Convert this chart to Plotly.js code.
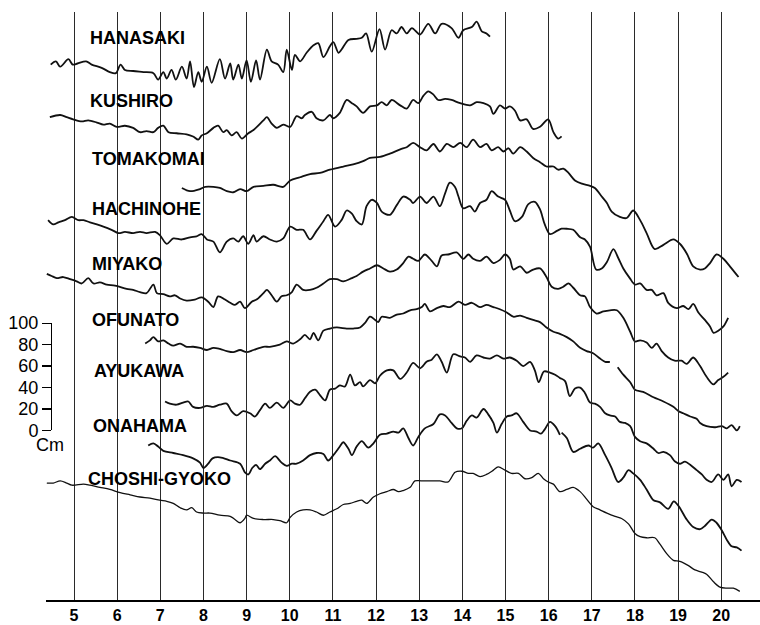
<!DOCTYPE html>
<html><head><meta charset="utf-8">
<script src="https://cdn.plot.ly/plotly-3.0.1.min.js"></script>
<style>html,body{margin:0;padding:0;background:#fff;}#chart{width:760px;height:625px;}</style>
</head><body><div id="chart"></div>
<script>
// hour ticks along the bottom
const hourTicks = [5,6,7,8,9,10,11,12,13,14,15,16,17,18,19,20];
// scale bar ticks (cm)
const scaleTicks = [0,20,40,60,80,100];
const stationNames = ['HANASAKI','KUSHIRO','TOMAKOMAI','HACHINOHE','MIYAKO','OFUNATO','AYUKAWA','ONAHAMA','CHOSHI-GYOKO'];

// time (hours) and level (cm, stacked record position) for each station
const hanasakiT = [4.46,4.58,4.68,4.87,4.97,5.08,5.28,5.41,5.64,5.83,5.97,6.08,6.18,6.37,6.61,6.84,6.95,7.07,7.15,7.26,7.36,7.50,7.61,7.69,7.78,7.88,7.96,8.08,8.19,8.38,8.50,8.62,8.69,8.81,8.89,9.00,9.10,9.22,9.31,9.47,9.58,9.73,9.85,9.93,10.05,10.12,10.24,10.39,10.55,10.66,10.78,10.93,11.01,11.13,11.20,11.36,11.55,11.67,11.77,11.90,12.08,12.21,12.36,12.48,12.59,12.71,12.83,13.02,13.21,13.37,13.52,13.75,13.91,14.02,14.22,14.33,14.45,14.56,14.64];
const hanasakiH = [499,502,497,504,499,500,502,499,496,492,491,499,494,493,492,491,485,492,486,494,485,497,486,502,478,492,483,497,482,504,486,500,485,499,486,503,483,503,485,513,502,499,492,513,494,508,502,510,517,519,506,516,520,510,513,522,523,524,528,511,532,513,531,528,534,528,533,527,537,528,537,533,524,531,534,539,530,528,525];

const kushiroT = [4.44,4.68,4.83,4.98,5.18,5.33,5.53,5.68,5.83,5.99,6.18,6.37,6.53,6.68,6.84,6.95,7.07,7.19,7.38,7.61,7.76,7.88,7.96,8.08,8.23,8.34,8.46,8.54,8.65,8.77,8.89,9.04,9.16,9.39,9.47,9.58,9.70,9.85,10.01,10.16,10.28,10.35,10.51,10.62,10.78,10.93,11.01,11.16,11.32,11.44,11.55,11.70,11.86,12.02,12.13,12.25,12.36,12.56,12.71,12.86,12.98,13.10,13.21,13.33,13.44,13.60,13.75,13.95,14.18,14.33,14.49,14.64,14.72,14.87,14.99,15.10,15.22,15.34,15.49,15.64,15.80,15.99,16.11,16.22,16.30];
const kushiroH = [450,452,450,448,446,447,445,443,444,441,442,440,436,437,436,440,442,436,435,434,432,429,433,435,440,442,436,438,433,436,430,435,438,447,450,444,440,443,441,451,449,452,455,449,447,452,449,454,466,463,460,454,460,461,464,461,466,461,458,466,463,470,474,471,466,467,466,463,461,464,463,460,453,461,458,460,456,447,448,439,441,448,436,430,432];

const tomakomaiT = [7.50,7.69,7.92,8.04,8.23,8.38,8.54,8.69,8.85,9.00,9.16,9.39,9.62,9.85,10.01,10.24,10.47,10.70,10.93,11.24,11.47,11.70,11.86,12.09,12.32,12.56,12.71,12.86,13.02,13.17,13.33,13.48,13.64,13.79,13.95,14.10,14.25,14.41,14.56,14.68,14.83,14.95,15.07,15.18,15.34,15.49,15.64,15.80,15.95,16.11,16.22,16.34,16.46,16.61,16.77,16.96,17.07,17.23,17.35,17.46,17.65,17.81,17.96,18.12,18.27,18.46,18.66,18.89,19.04,19.20,19.35,19.51,19.62,19.74,19.89,20.05,20.20,20.40];
const tomakomaiH = [384,381,383,385,385,384,381,380,383,381,385,386,387,385,391,394,397,398,401,404,406,409,412,413,416,420,422,426,422,419,425,418,425,422,426,422,429,422,425,419,422,418,421,416,422,418,412,408,404,404,401,402,398,391,388,386,384,376,370,362,357,356,363,354,342,327,331,336,332,323,311,308,309,314,322,318,311,301];

const hachinoheT = [4.40,4.52,4.64,4.79,4.95,5.10,5.22,5.37,5.53,5.68,5.87,6.03,6.18,6.37,6.53,6.68,6.88,6.99,7.15,7.30,7.50,7.69,7.84,7.96,8.08,8.23,8.38,8.54,8.69,8.81,8.92,9.04,9.16,9.23,9.39,9.54,9.70,9.85,10.01,10.16,10.31,10.47,10.62,10.78,10.89,11.05,11.20,11.32,11.44,11.55,11.67,11.78,11.90,12.02,12.13,12.32,12.48,12.63,12.79,12.86,13.02,13.17,13.33,13.48,13.60,13.71,13.83,13.91,14.02,14.18,14.29,14.41,14.56,14.68,14.83,14.99,15.10,15.22,15.38,15.53,15.68,15.80,15.91,16.03,16.19,16.30,16.42,16.57,16.73,16.84,16.96,17.10,17.23,17.35,17.50,17.61,17.73,17.88,18.00,18.12,18.27,18.39,18.50,18.66,18.77,18.97,19.12,19.24,19.35,19.47,19.62,19.74,19.82,19.93,20.05,20.16];
const hachinoheH = [354,350,352,354,357,354,354,352,350,348,345,342,343,342,343,342,343,340,332,337,336,338,339,341,336,334,324,334,337,334,339,332,340,334,339,336,334,337,348,345,345,336,344,353,359,348,354,363,360,353,350,367,373,370,362,359,368,376,373,370,376,370,376,367,379,389,385,376,365,367,362,370,373,381,376,373,363,353,357,369,371,364,350,341,344,346,346,345,338,336,329,308,309,315,327,319,309,300,294,295,289,289,284,286,277,272,274,271,276,268,261,255,249,251,255,263];

const miyakoT = [4.37,4.48,4.60,4.75,4.91,5.06,5.18,5.33,5.45,5.60,5.76,5.95,6.22,6.37,6.53,6.68,6.84,6.92,7.07,7.22,7.34,7.46,7.61,7.80,7.96,8.11,8.23,8.34,8.50,8.62,8.73,8.85,8.96,9.12,9.23,9.39,9.47,9.58,9.70,9.81,9.93,10.05,10.16,10.31,10.47,10.62,10.78,10.93,11.09,11.24,11.44,11.55,11.70,11.86,12.02,12.17,12.32,12.48,12.63,12.75,12.86,12.98,13.13,13.29,13.41,13.52,13.67,13.87,14.02,14.14,14.25,14.41,14.56,14.72,14.87,14.99,15.10,15.18,15.34,15.49,15.64,15.80,15.95,16.07,16.22,16.34,16.46,16.57,16.73,16.84,16.96,17.11,17.27,17.42,17.58,17.73,17.89,18.00,18.12,18.27,18.39,18.50,18.62,18.77,18.92,19.08,19.20,19.35,19.51,19.66,19.82,19.93,20.05,20.16];
const miyakoH = [304,302,300,301,299,297,295,300,295,296,294,293,290,289,287,286,294,286,285,283,284,281,279,280,282,278,273,283,280,277,275,278,272,278,280,286,289,284,278,283,284,287,294,289,289,291,295,299,299,297,300,302,306,309,312,309,306,308,314,320,318,316,322,316,311,321,322,324,318,322,318,316,320,314,317,322,318,308,311,305,308,309,301,292,290,292,295,291,284,283,273,267,269,270,270,263,250,241,242,240,235,239,232,226,223,223,220,226,218,208,201,205,208,212];

const ofunatoT = [6.65,6.76,6.84,6.95,7.07,7.19,7.30,7.46,7.61,7.76,7.92,8.08,8.23,8.38,8.54,8.69,8.85,9.00,9.16,9.39,9.54,9.77,9.93,10.08,10.24,10.35,10.47,10.55,10.66,10.78,10.93,11.09,11.32,11.47,11.63,11.74,11.86,11.98,12.05,12.13,12.32,12.48,12.63,12.79,12.94,13.06,13.13,13.25,13.41,13.56,13.71,13.91,14.06,14.22,14.41,14.56,14.72,14.87,15.03,15.18,15.34,15.49,15.64,15.80,15.95,16.11,16.26,16.42,16.57,16.73,16.88,17.03,17.19,17.31,17.42,null,17.60,17.73,17.89,18.00,18.19,18.43,18.66,18.89,19.01,19.12,19.28,19.43,19.51,19.66,19.86,20.01,20.13,20.24,20.36,20.43];
const ofunatoH = [239,242,245,241,242,239,237,239,236,236,235,233,235,234,232,231,233,231,233,236,236,238,241,239,243,247,243,249,242,251,253,254,253,253,254,258,264,261,259,264,263,266,267,270,271,273,276,269,272,274,273,278,275,277,273,275,273,271,268,264,265,263,261,259,254,250,248,245,241,235,232,230,225,222,222,null,217,210,203,196,194,189,185,180,176,174,171,169,165,162,161,162,160,163,158,162];

const ayukawaT = [7.11,7.22,7.38,7.53,7.65,7.76,7.92,8.08,8.23,8.38,8.54,8.65,8.77,8.92,9.08,9.19,9.31,9.43,9.54,9.70,9.85,10.01,10.12,10.24,10.35,10.47,10.59,10.70,10.82,10.93,11.05,11.16,11.28,11.40,11.51,11.63,11.70,11.86,11.98,12.09,12.25,12.40,12.56,12.71,12.86,13.02,13.17,13.29,13.41,13.52,13.64,13.79,13.95,14.06,14.18,14.33,14.49,14.64,14.80,14.95,15.10,15.26,15.41,15.57,15.68,15.77,15.89,16.03,16.15,16.26,16.38,16.49,16.61,16.73,16.84,16.96,17.07,17.19,17.31,17.42,17.54,17.65,17.77,17.89,18.00,18.12,18.27,18.43,18.54,18.66,18.81,18.93,19.04,19.16,19.28,19.43,19.55,19.66,19.78,19.93,20.05,20.16,20.24,20.36,20.47];
const ayukawaH = [185,183,182,184,185,180,179,181,180,182,183,176,172,176,174,171,177,183,179,184,179,186,183,182,188,194,196,191,186,196,197,200,199,210,200,203,199,205,202,209,214,214,206,212,221,216,222,224,229,222,212,229,227,226,222,228,226,225,228,225,226,223,218,222,214,203,213,212,210,207,204,190,197,198,193,184,183,180,174,172,171,166,165,162,152,148,146,141,137,138,135,129,127,129,126,121,117,112,110,117,112,117,106,112,110];

const onahamaT = [6.72,6.84,6.95,7.07,7.30,7.53,7.76,7.92,8.00,8.11,8.21,8.38,8.62,8.85,8.96,9.04,9.13,9.22,9.31,9.43,9.54,9.66,9.81,9.93,10.05,10.16,10.31,10.47,10.62,10.78,10.89,11.01,11.16,11.24,11.36,11.44,11.55,11.67,11.82,11.94,12.09,12.25,12.40,12.52,12.63,12.75,12.86,12.98,13.13,13.33,13.48,13.60,13.75,13.87,13.99,14.10,14.22,14.33,14.49,14.60,14.72,14.80,14.91,15.03,15.14,15.26,15.41,15.57,15.72,15.82,15.91,16.03,16.15,16.26,null,16.30,16.42,16.57,16.73,16.92,17.03,17.15,17.31,17.46,17.61,17.73,17.85,17.96,18.12,18.27,18.43,18.58,18.77,18.90,19.02,19.20,19.35,19.51,19.62,19.78,19.89,20.01,20.13,20.24,20.36,20.47];
const onahamaH = [144,146,143,139,137,135,132,128,123,127,132,133,130,127,119,117,123,126,122,127,130,134,128,125,127,127,130,135,137,136,130,135,143,147,141,135,143,148,142,146,154,155,157,156,160,151,144,152,160,164,173,172,165,160,160,167,172,170,178,173,165,156,164,171,172,174,166,158,157,155,159,166,162,154,null,156,151,138,141,144,142,146,135,123,110,114,121,118,112,103,93,91,85,92,87,75,68,66,69,75,72,65,56,50,49,46];

const choshiT = [4.37,4.52,4.68,4.83,4.95,5.22,5.37,5.60,5.83,6.07,6.30,6.53,6.76,6.99,7.15,7.30,7.46,7.61,7.73,7.84,8.00,8.15,8.38,8.62,8.73,8.85,8.96,9.00,9.16,9.39,9.62,9.77,9.93,10.01,10.16,10.31,10.47,10.62,10.78,10.93,11.09,11.24,11.40,11.55,11.67,11.78,11.94,12.09,12.25,12.40,12.52,12.63,12.79,12.90,13.06,13.25,13.48,13.67,13.83,13.99,14.14,14.25,14.41,14.56,14.72,14.83,14.99,15.14,15.30,15.45,15.61,15.76,15.88,15.99,16.11,16.26,16.42,16.57,16.73,16.88,17.03,17.19,17.35,17.54,17.69,17.85,18.00,18.12,18.27,18.46,18.58,18.74,18.89,19.04,19.24,19.39,19.55,19.66,19.82,19.97,20.13,20.28,20.43];
const choshiH = [109,109,111,109,107,108,107,105,103,100,98,96,95,93,92,90,86,84,86,82,81,81,79,78,75,72,76,79,76,75,75,74,72,77,82,84,84,82,79,82,85,89,90,92,93,90,96,99,101,103,101,102,105,111,111,111,111,110,119,120,118,118,115,117,121,124,121,118,118,113,114,118,113,110,108,101,103,105,101,94,87,84,81,78,76,71,62,59,58,58,52,43,37,36,32,28,26,24,17,12,11,11,8];

const seriesT = [hanasakiT,kushiroT,tomakomaiT,hachinoheT,miyakoT,ofunatoT,ayukawaT,onahamaT,choshiT];
const seriesH = [hanasakiH,kushiroH,tomakomaiH,hachinoheH,miyakoH,ofunatoH,ayukawaH,onahamaH,choshiH];

const traces = seriesT.map((t,i) => ({
  x: t, y: seriesH[i], type: 'scatter', mode: 'lines', name: stationNames[i],
  line: {color: '#111', width: i === 8 ? 1.3 : 1.8, shape: 'spline', smoothing: 0.9},
  connectgaps: false, hoverinfo: 'skip', showlegend: false
}));
// carrier for the cm scale axis
traces.push({x: [hourTicks[0]], y: [scaleTicks[0]], xaxis: 'x', yaxis: 'y2', type: 'scatter', mode: 'markers',
  marker: {opacity: 0}, hoverinfo: 'skip', showlegend: false});

// label anchor positions (layout): hour, cm
const labelPos = [[5.32,524],[5.32,465],[5.37,411],[5.37,364],[5.37,313],[5.37,261],[5.42,213],[5.40,162],[5.28,113]];
const yTop = 548;          // cm at top of plotting area
const scaleZero = 158;     // main-axis cm where the scale bar's 0 sits

const layout = {
  width: 760, height: 625,
  margin: {l: 46, r: 0, t: 12, b: 25},
  paper_bgcolor: '#ffffff', plot_bgcolor: 'rgba(0,0,0,0)',
  showlegend: false,
  font: {family: 'Liberation Sans, Arial, sans-serif', color: '#000'},
  xaxis: {
    range: [4.351, 20.898], tickvals: hourTicks, ticktext: hourTicks.map(String),
    showgrid: true, gridcolor: '#2a2a2a', gridwidth: 1,
    showline: true, linecolor: '#000', linewidth: 1.5, ticks: '', zeroline: false,
    tickfont: {family: 'Liberation Sans, Arial, sans-serif', size: 16, color: '#000', weight: 'bold'},
    fixedrange: true
  },
  yaxis: {range: [0, yTop], visible: false, fixedrange: true},
  yaxis2: {
    domain: [scaleZero / yTop, (scaleZero + 100) / yTop], range: [0, 100],
    anchor: 'free', position: 5 / 714, side: 'left',
    showline: true, linecolor: '#000', linewidth: 1.3,
    ticks: 'outside', ticklen: 9, tickwidth: 1.3, tickcolor: '#000',
    tickvals: scaleTicks, ticktext: scaleTicks.map(String),
    tickfont: {family: 'Liberation Sans, Arial, sans-serif', size: 18, color: '#000'},
    showgrid: false, zeroline: false, fixedrange: true
  },
  annotations: stationNames.map((n,i) => ({
    x: labelPos[i][0], y: labelPos[i][1], xref: 'x', yref: 'y', text: n, showarrow: false,
    xanchor: 'left', yanchor: 'middle',
    font: {family: 'Liberation Sans, Arial, sans-serif', size: 18, color: '#000', weight: 'bold'}
  })).concat([{
    x: 4 / 714, y: (600 - 445) / 588, xref: 'paper', yref: 'paper', text: 'Cm', showarrow: false,
    xanchor: 'center', yanchor: 'middle',
    font: {family: 'Liberation Sans, Arial, sans-serif', size: 18, color: '#000'}
  }])
};

Plotly.newPlot('chart', traces, layout, {displayModeBar: false, staticPlot: true});
</script>
</body></html>
